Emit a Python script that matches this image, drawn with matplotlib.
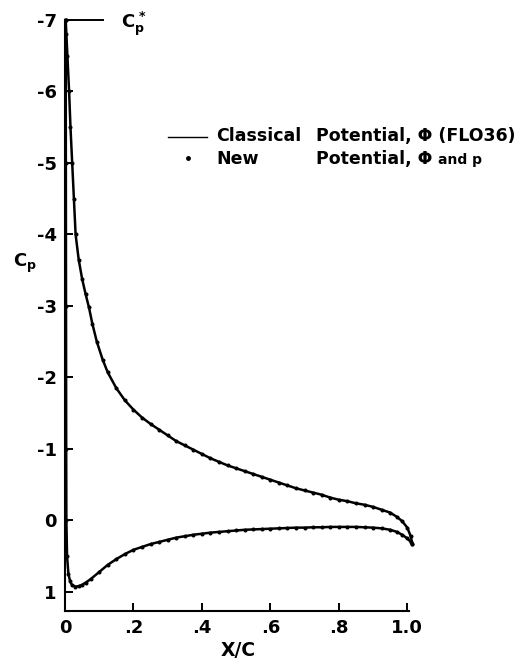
import matplotlib
matplotlib.use("Agg")
import matplotlib.pyplot as plt

plt.rcParams['font.family'] = ['DejaVu Sans']
plt.rcParams['font.weight'] = 'bold'
plt.rcParams['mathtext.fontset'] = 'custom'
plt.rcParams['mathtext.rm'] = 'DejaVu Sans:bold'
plt.rcParams['mathtext.it'] = 'DejaVu Sans:bold'
plt.rcParams['mathtext.bf'] = 'DejaVu Sans:bold'

# upper surface (suction side), x/c and Cp
upper_x = [0.002, 0.004, 0.007, 0.012, 0.016, 0.021, 0.026, 0.031, 0.04, 0.05,
           0.06, 0.07, 0.08, 0.093, 0.11, 0.125, 0.15, 0.175, 0.2, 0.225,
           0.25, 0.275, 0.3, 0.325, 0.35, 0.375, 0.4, 0.425, 0.45, 0.475,
           0.5, 0.525, 0.55, 0.575, 0.6, 0.625, 0.65, 0.675, 0.7, 0.725,
           0.75, 0.775, 0.8, 0.825, 0.85, 0.875, 0.9, 0.925, 0.95, 0.97,
           0.985, 1.0, 1.01, 1.015]
upper_cp = [-7.0, -6.8, -6.5, -6.0, -5.5, -5.0, -4.5, -4.0, -3.65, -3.38,
            -3.17, -2.98, -2.75, -2.5, -2.25, -2.07, -1.85, -1.68, -1.55, -1.44,
            -1.35, -1.27, -1.19, -1.11, -1.05, -0.99, -0.93, -0.87, -0.82, -0.77,
            -0.73, -0.69, -0.65, -0.61, -0.57, -0.53, -0.49, -0.45, -0.42, -0.39,
            -0.36, -0.32, -0.29, -0.27, -0.24, -0.22, -0.19, -0.15, -0.11, -0.05,
            0.01, 0.10, 0.22, 0.33]

# lower surface (pressure side)
lower_x = [0.002, 0.0025, 0.003, 0.0035, 0.004, 0.006, 0.01, 0.015, 0.02, 0.03,
           0.04, 0.05, 0.06, 0.075, 0.1, 0.125, 0.15, 0.175, 0.2, 0.225,
           0.25, 0.275, 0.3, 0.325, 0.35, 0.375, 0.4, 0.425, 0.45, 0.475,
           0.5, 0.525, 0.55, 0.575, 0.6, 0.625, 0.65, 0.675, 0.7, 0.725,
           0.75, 0.775, 0.8, 0.825, 0.85, 0.875, 0.9, 0.925, 0.95, 0.97,
           0.985, 1.0, 1.01, 1.015]
lower_cp = [-7.0, -5.0, -3.0, -1.0, 0.0, 0.5, 0.75, 0.85, 0.9, 0.925,
            0.92, 0.90, 0.87, 0.82, 0.72, 0.62, 0.54, 0.47, 0.41, 0.37,
            0.33, 0.30, 0.27, 0.24, 0.22, 0.20, 0.185, 0.17, 0.16, 0.15,
            0.14, 0.13, 0.125, 0.12, 0.115, 0.11, 0.105, 0.10, 0.10, 0.095,
            0.095, 0.09, 0.09, 0.09, 0.09, 0.095, 0.10, 0.11, 0.13, 0.16,
            0.20, 0.25, 0.30, 0.33]

xticks = [0, 0.2, 0.4, 0.6, 0.8, 1.0]
xticklabels = ['0', '.2', '.4', '.6', '.8', '1.0']
yticks = [-7, -6, -5, -4, -3, -2, -1, 0, 1]
yticklabels = ['-7', '-6', '-5', '-4', '-3', '-2', '-1', '0', '1']
cp_star = -7.0

fig = plt.figure(figsize=(5.32, 6.59), dpi=100)
ax = fig.add_axes([65 / 532, 48 / 659, 344 / 532, 591 / 659])

# classical potential - solid line
ax.plot(upper_x, upper_cp, color='black', lw=1.8, clip_on=False)
ax.plot(lower_x, lower_cp, color='black', lw=1.8, clip_on=False)
# new potential - dots
ax.plot(upper_x, upper_cp, 'o', color='black', ms=1.9, clip_on=False)
ax.plot(lower_x, lower_cp, 'o', color='black', ms=1.9, clip_on=False)

# critical pressure line
ax.plot([0, 0.11], [cp_star, cp_star], color='black', lw=1.4, clip_on=False)
ax.text(0.163, cp_star + 0.05, r'$C_p^*$', fontsize=13, va='center', ha='left')

ax.set_xlim(0, 1.005)
ax.set_ylim(1.266, -7.0)
ax.spines['top'].set_visible(False)
ax.spines['right'].set_visible(False)
ax.spines['left'].set_linewidth(1.5)
ax.spines['bottom'].set_linewidth(1.5)

ax.set_xticks(xticks)
ax.set_xticklabels(xticklabels, fontsize=13, fontweight='bold')
ax.set_yticks(yticks)
ax.set_yticklabels(yticklabels, fontsize=13, fontweight='bold')
ax.tick_params(axis='both', direction='in', length=6, width=1.4)
ax.tick_params(axis='x', pad=6)
ax.tick_params(axis='y', pad=6)

fig.text(238 / 532, 1 - 650 / 659, 'X/C', fontsize=13.5, fontweight='bold',
         ha='center', va='center')
fig.text(13 / 532, 1 - 263 / 659, r'$C_p$', fontsize=13, ha='left', va='center')

# legend drawn by hand to match the two-column layout
fig.add_artist(plt.Line2D([168 / 532, 207 / 532], [1 - 136.5 / 659, 1 - 136.5 / 659],
                          color='black', lw=1.0))
fig.add_artist(plt.Line2D([188 / 532], [1 - 158 / 659], marker='o', ms=2.5,
                          color='black'))
fig.text(216 / 532, 1 - 136 / 659, 'Classical', fontsize=12.5, fontweight='bold',
         va='center', ha='left')
fig.text(216 / 532, 1 - 159 / 659, 'New', fontsize=12.5, fontweight='bold',
         va='center', ha='left')
fig.text(316 / 532, 1 - 136 / 659, 'Potential, Φ (FLO36)', fontsize=12.5,
         fontweight='bold', va='center', ha='left')
t = fig.text(316 / 532, 1 - 159 / 659, 'Potential, Φ ', fontsize=12.5,
             fontweight='bold', va='center', ha='left')
fig.canvas.draw()
bb = t.get_window_extent()
fig.text(bb.x1 / fig.bbox.width, 1 - 159.5 / 659, 'and p', fontsize=10,
         fontweight='bold', va='center', ha='left')

fig.savefig('out.png', dpi=100)
